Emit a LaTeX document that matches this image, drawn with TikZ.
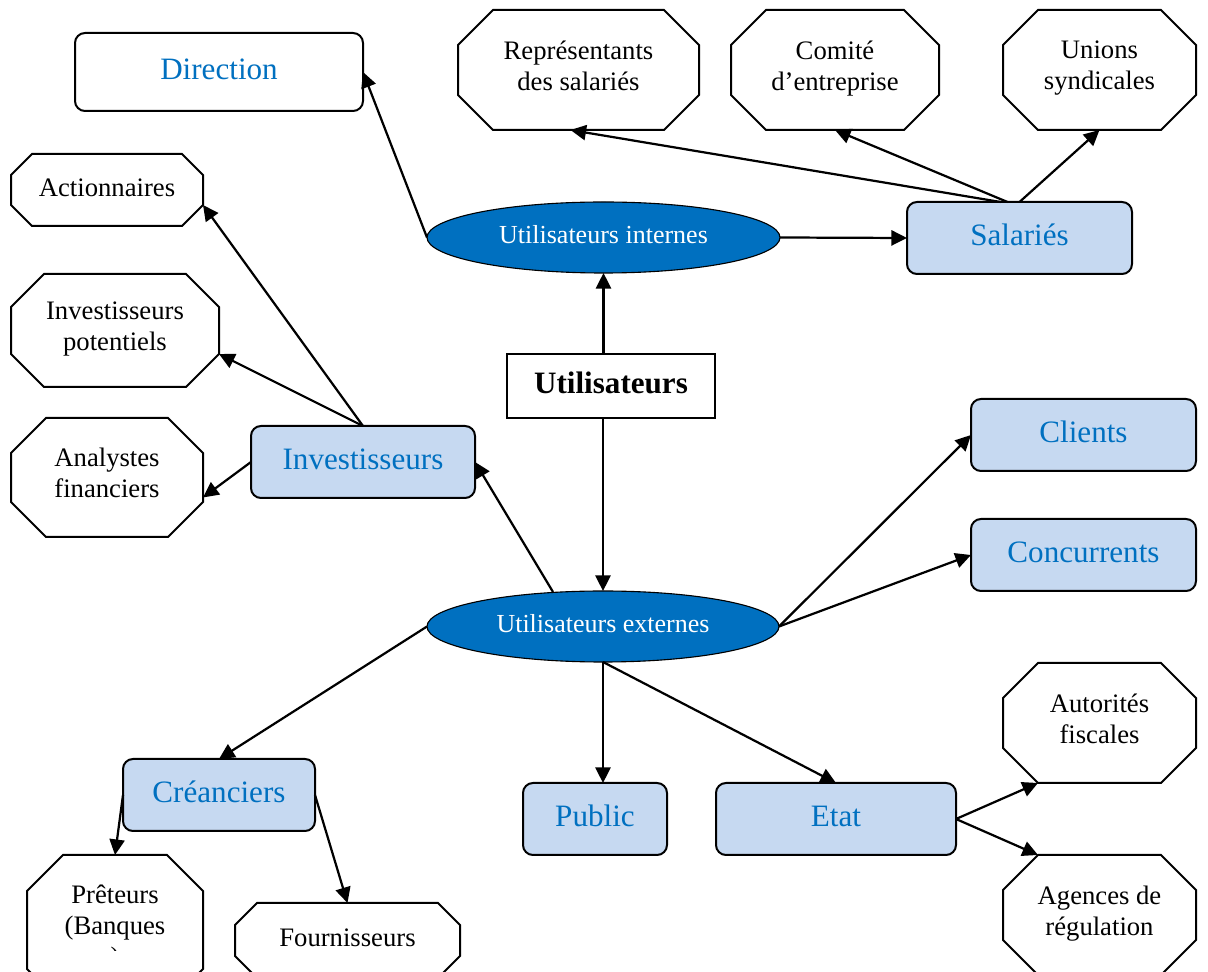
\documentclass[tikz,border=0pt]{standalone}
\usepackage{fontspec}
\setmainfont{Liberation Serif}
\usetikzlibrary{arrows.meta,calc,shapes.geometric}

\definecolor{wordblue}{HTML}{0070C0}
\definecolor{paleblue}{HTML}{C6D9F1}

% Octagonal frame drawn around a (borderless) rectangular node; #2 = corner cut
\newcommand\octframe[2]{%
  \draw[octline]
    ($(#1.north west)+(#2,0)$) -- ($(#1.north east)+(-#2,0)$) --
    ($(#1.north east)+(0,#2)$) -- ($(#1.south east)+(0,-#2)$) --
    ($(#1.south east)+(-#2,0)$) -- ($(#1.south west)+(#2,0)$) --
    ($(#1.south west)+(0,-#2)$) -- ($(#1.north west)+(0,#2)$) -- cycle;}

\tikzset{
  sz/.style 2 args={minimum width=#1*0.45pt, minimum height=#2*0.45pt},
  base/.style={inner sep=1pt, outer sep=0pt, align=center,
    execute at begin node=\strut, execute at end node=\strut},
  bluebox/.style={base, draw, line width=0.9pt, rounded corners=4.5pt,
    fill=paleblue, text=wordblue, font=\fontsize{14}{16}\selectfont},
  dirbox/.style={bluebox, fill=white},
  octbox/.style={base, font=\fontsize{12}{14}\selectfont},
  oval/.style={base, ellipse, draw, line width=0.5pt, fill=wordblue,
    text=white, font=\fontsize{11.7}{14}\selectfont},
  rootbox/.style={base, draw, line width=0.9pt,
    font=\bfseries\fontsize{14}{16}\selectfont},
  octline/.style={draw, line width=0.9pt, line join=miter},
  link/.style={draw, line width=1pt, -{Triangle[length=7pt,width=6.8pt]}},
}

\begin{document}
\begin{tikzpicture}[x=0.45pt, y=-0.45pt]
\useasboundingbox (0,0) rectangle (1208,972);
\clip (0,0) rectangle (1208,972);

% central hub and the two user groups
\node[rootbox, sz={208}{64}] (util) at (611,386) {Utilisateurs};
\node[oval, sz={353}{71}] (intern) at (603.5,237.5) {Utilisateurs internes};
\node[oval, sz={352}{71}] (ext) at (603,626.5) {Utilisateurs externes};

% internal users
\node[dirbox, sz={288}{78}] (dir) at (219,72) {Direction};
\node[bluebox, sz={225}{72}] (sal) at (1019.5,238) {Salariés};
\node[octbox, sz={241}{120}] (rep) at (578.5,70) {Représentants\\des salariés};
\node[octbox, sz={208}{120}] (com) at (835,70) {Comité\\d’entreprise};
\node[octbox, sz={193}{120}] (uni) at (1099.5,70) {Unions\\syndicales};

% investors
\node[bluebox, sz={224}{72}] (inv) at (363,462) {Investisseurs};
\node[octbox, sz={192}{72}] (act) at (107,190) {Actionnaires};
\node[octbox, sz={208}{113}] (pot) at (115,330.5) {Investisseurs\\potentiels};
\node[octbox, sz={192}{119}] (ana) at (107,477.5) {Analystes\\financiers};

% other external users
\node[bluebox, sz={225}{72}] (cli) at (1083.5,435) {Clients};
\node[bluebox, sz={225}{72}] (conc) at (1083.5,555) {Concurrents};
\node[bluebox, sz={144}{72}] (pub) at (595,819) {Public};
\node[bluebox, sz={240}{72}] (etat) at (836,819) {Etat};
\node[octbox, sz={193}{120}] (aut) at (1099.5,723) {Autorités\\fiscales};
\node[octbox, sz={193}{120}] (age) at (1099.5,915) {Agences de\\régulation};

% creditors
\node[bluebox, sz={192}{72}] (cre) at (219,795) {Créanciers};
\begin{scope}
  \clip (0,0) rectangle (1208,951);
  \node[octbox, sz={176}{150}] (pret) at (115,930) {Prêteurs\\(Banques\\)};
\end{scope}
\node[octbox, sz={225}{75}] (four) at (347.5,940.5) {Fournisseurs};

% octagon outlines
\octframe{rep}{35}
\octframe{com}{35}
\octframe{uni}{35}
\octframe{act}{21}
\octframe{pot}{33}
\octframe{ana}{35}
\octframe{aut}{35}
\octframe{age}{35}
\octframe{pret}{36}
\octframe{four}{22}

% connectors
\draw[link] (util.north -| intern.south) -- (intern.south);
\draw[link] (util.south -| ext.north) -- (ext.north);
\draw[link] (intern.west) -- (dir.east);
\draw[link] (intern.east) -- (sal.west);
\draw[link] ($(sal.north)+(-19,0)$) -- ($(rep.south)+(-8,0)$);
\draw[link] ($(sal.north)+(-12,0)$) -- (com.south);
\draw[link] (sal.north) -- (uni.south);
\draw[link] (inv.north) -- ($(act.south east)+(0,-21)$);
\draw[link] (inv.north) -- ($(pot.south east)+(0,-33)$);
\draw[link] (inv.west) -- ($(ana.east)+(0,20)$);
\draw[link] ($(ext.north)+(-50,1)$) -- (inv.east);
\draw[link] (ext.east) -- (cli.west);
\draw[link] (ext.east) -- (conc.west);
\draw[link] (ext.west) -- (cre.north);
\draw[link] (ext.south) -- (ext.south |- pub.north);
\draw[link] (ext.south) -- (etat.north);
\draw[link] (cre.west) -- (pret.north);
\draw[link] (cre.east) -- (four.north);
\draw[link] (etat.east) -- ($(aut.south west)+(35,0)$);
\draw[link] (etat.east) -- ($(age.north west)+(35,0)$);
\end{tikzpicture}
\end{document}
